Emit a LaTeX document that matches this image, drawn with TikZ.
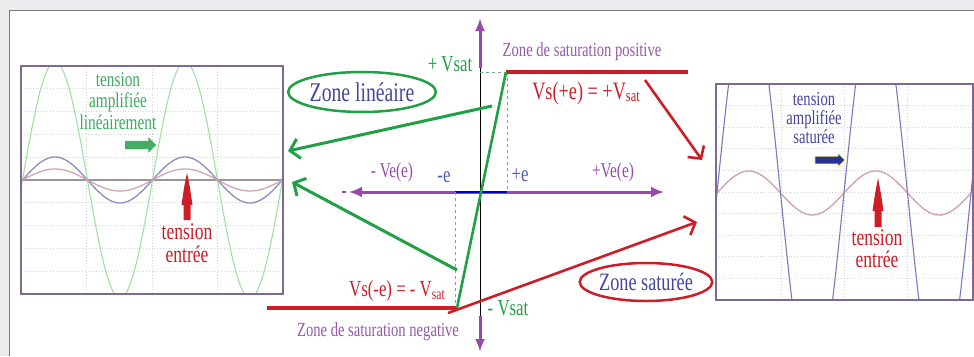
\documentclass[tikz,border=0pt]{standalone}
\usepackage{fontspec}
\setmainfont{Liberation Serif}[FakeStretch=0.73]
\usetikzlibrary{arrows.meta,shapes.geometric,shapes.arrows}
\definecolor{framegray}{RGB}{236,236,238}
\definecolor{framedark}{RGB}{120,120,130}
\definecolor{gcol}{RGB}{34,160,70}
\definecolor{gtext}{RGB}{60,170,95}
\definecolor{glight}{RGB}{160,225,160}
\definecolor{rcol}{RGB}{205,30,40}
\definecolor{pcol}{RGB}{150,75,170}
\definecolor{ptext}{RGB}{150,90,170}
\definecolor{btext}{RGB}{70,70,160}
\definecolor{ecol}{RGB}{80,90,175}
\definecolor{boxcol}{RGB}{125,105,145}
\definecolor{pinkc}{RGB}{212,165,175}
\definecolor{bluec}{RGB}{140,140,195}
\definecolor{gridc}{RGB}{210,210,222}
\definecolor{midc}{RGB}{150,150,155}
\definecolor{dashc}{RGB}{120,170,140}
\definecolor{navy}{RGB}{40,50,150}
\newcommand\myfs[2]{\fontsize{#1}{#2}\selectfont}
\newcommand\lowsub[2]{\raisebox{-0.25ex}{\fontsize{#1}{#1}\selectfont #2}}
\begin{document}
\begin{tikzpicture}[x=1pt,y=-1pt,
  lbl/.style={inner sep=0pt, align=center},
  plotbox/.style={draw=boxcol, line width=1.2pt},
  gridline/.style={gridc, dotted, line width=0.9pt},
  garrow/.style={gcol, line width=3pt, -{Straight Barb[length=9pt,width=20pt]}},
  rarrow/.style={rcol, line width=2.6pt, -{Straight Barb[length=9pt,width=20pt]}},
  satline/.style={rcol, line width=3.5pt},
  guide/.style={dashc, dashed, line width=0.9pt},
  fatarrow/.style={single arrow, inner sep=4pt, minimum width=15pt, single arrow head extend=3.5pt, minimum height=31pt},
  zone/.style={ellipse, inner sep=0pt, line width=2.5pt}
]
\useasboundingbox (0,0) rectangle (974,356);
\fill[framegray] (0,0) rectangle (974,356);
\fill[white] (9,10) rectangle (974,356);
\draw[framedark, line width=1pt] (9,356) -- (9,10) -- (974,10);

% ---------- left plot ----------
\begin{scope}
\clip (21,66) rectangle (283,294);
\foreach \i in {1,...,9} \draw[gridline] (21,{66+22.8*\i}) -- (283,{66+22.8*\i});
\foreach \xx in {86.5,152,217.5} \draw[gridline] (\xx,66) -- (\xx,294);
\draw[glight, line width=1.1pt, domain=21:283, samples=260] plot (\x,{180-118*sin((\x-22.5)/130*360)});
\draw[midc, line width=1.4pt] (21,180) -- (283,180);
\draw[bluec, line width=1.3pt, domain=21:283, samples=150] plot (\x,{180-23*sin((\x-22.5)/130*360)});
\draw[pinkc, line width=1.3pt, domain=21:283, samples=150] plot (\x,{180-11*sin((\x-22.5)/130*360)});
\end{scope}
\draw[plotbox] (21,66) rectangle (283,294);
\node[lbl, text=gtext, font=\myfs{21}{21.5}] (ampl) at (118,101) {tension\\amplifiée\\linéairement};
\node[fatarrow, fill=gcol!85] (garr) at (138.5,145) {};
\fill[rcol] (183.5,220) -- (183.5,205) -- (181.5,205) -- (184,188) -- (185.5,180) -- (187,173) -- (188.5,180) -- (190,188) -- (192.5,205) -- (190.5,205) -- (190.5,220) -- cycle;
\node[lbl, text=rcol, font=\myfs{24}{23}] (entl) at (187,243) {tension\\entrée};

% ---------- right plot ----------
\begin{scope}
\clip (716,84) rectangle (973,300);
\foreach \i in {1,...,9} \draw[gridline] (716,{84+21.6*\i}) -- (973,{84+21.6*\i});
\foreach \xx in {781,844,907} \draw[gridline] (\xx,84) -- (\xx,300);
\draw[pinkc, line width=1.4pt, domain=716:973, samples=150] plot (\x,{193-22*sin((\x-717)/127*360)});
\draw[bluec!80!navy, line width=1.1pt, domain=700:990, samples=600] plot (\x,{193-200*sin((\x-717)/127*360)});
\end{scope}
\draw[plotbox] (716,84) rectangle (973,300);
\node[lbl, text=btext, font=\myfs{20}{19}] (ampr) at (814,118) {tension\\amplifiée\\saturée};
\node[fatarrow, fill=navy, draw=yellow!55!white, line width=0.7pt, inner sep=3.5pt, minimum height=30pt, minimum width=13pt, single arrow head extend=3pt] (barr) at (828,160) {};
\begin{scope}[shift={(691,6)}]
\fill[rcol] (183.5,221) -- (183.5,205) -- (181.5,205) -- (184,188) -- (185.5,180) -- (187,172) -- (188.5,180) -- (190,188) -- (192.5,205) -- (190.5,205) -- (190.5,221) -- cycle;
\end{scope}
\node[lbl, text=rcol, font=\myfs{24}{22}] (entr) at (877,249) {tension\\entrée};

% ---------- transfer characteristic ----------
\coordinate (vtop) at (480,18);
\coordinate (vtopm) at (480,68);
\coordinate (vbot) at (480,352);
\coordinate (vbotm) at (480,316);
\coordinate (hl) at (349,192);
\coordinate (hr) at (664,192);
\coordinate (ml) at (455,192);
\coordinate (mr) at (507,192);
\coordinate (psat) at (506,72);
\coordinate (nsat) at (457,308);
\coordinate (psatend) at (688,72);
\coordinate (nsatend) at (267,308);
\coordinate (axsat) at (480,72);
\coordinate (dotl) at (342,192);
\coordinate (dotr) at (346,192);

\draw[black, line width=0.8pt] (vtopm) -- (vbotm);
\draw[pcol, line width=3pt, -{Latex[length=13pt,width=10pt]}] (vtopm) -- (vtop);
\draw[pcol, line width=3pt, -{Latex[length=13pt,width=10pt]}] (vbotm) -- (vbot);
\draw[pcol, line width=3pt, {Latex[length=13pt,width=11pt]}-{Latex[length=13pt,width=11pt]}] (hl) -- (hr);
\draw[pcol, line width=2pt] (dotl) -- (dotr);
\draw[blue!75!black, line width=2.6pt] (ml) -- (mr);
\draw[guide] (axsat) -- (psat);
\draw[guide] (mr |- psat) -- (mr);
\draw[guide] (ml) -- (ml |- nsat);
\draw[satline] (psat) -- (psatend);
\draw[satline] (nsatend) -- (nsat);
\draw[gcol, line width=2.6pt] (nsat) -- (psat);

\node[lbl, text=gcol, font=\myfs{23}{23}] (pvsat) at (450,64) {+ Vsat};
\node[lbl, text=ptext, font=\myfs{20}{20}] (zsp) at (582,52) {Zone de saturation positive};
\node[lbl, text=rcol, font=\myfs{25}{25}] (vsp) at (586,93) {Vs(+e) = +V\lowsub{17}{sat}};
\node[zone, draw=gcol, minimum width=128pt, minimum height=40pt, text=btext, font=\myfs{27}{27}] (zl) at (362,92) {Zone linéaire};
\node[lbl, text=pcol, font=\myfs{21}{21}] (mve) at (392,172) {- Ve(e)};
\node[lbl, text=ecol, font=\myfs{23}{23}] (me) at (444,177) {-e};
\node[lbl, text=ecol, font=\myfs{23}{23}] (pe) at (520,175) {+e};
\node[lbl, text=pcol, font=\myfs{21}{21}] (pve) at (613,172) {+Ve(e)};
\node[lbl, text=rcol, font=\myfs{23}{23}] (vsn) at (397,291) {Vs(-e) = - V\lowsub{16}{sat}};
\node[lbl, text=gcol, font=\myfs{23}{23}] (nvsat) at (508,308) {- Vsat};
\node[lbl, text=ptext, font=\myfs{20}{20}] (zsn) at (378,332) {Zone de saturation negative};
\node[zone, draw=rcol, minimum width=126pt, minimum height=38pt, text=btext, font=\myfs{25}{25}] (zs) at (646,282) {Zone saturée};

% ---------- connectors ----------
\coordinate (ga1s) at (492,106);
\coordinate (ga1e) at (288,151);
\coordinate (ga2s) at (457,270);
\coordinate (ga2e) at (292,182);
\coordinate (ra1s) at (645,80);
\coordinate (ra1e) at (702,160);
\coordinate (ra2s) at (448,313);
\coordinate (ra2e) at (697,222);
\draw[garrow] (ga1s) -- (ga1e);
\draw[garrow] (ga2s) -- (ga2e);
\draw[rarrow] (ra1s) -- (ra1e);
\draw[rarrow] (ra2s) -- (ra2e);
\end{tikzpicture}
\end{document}
